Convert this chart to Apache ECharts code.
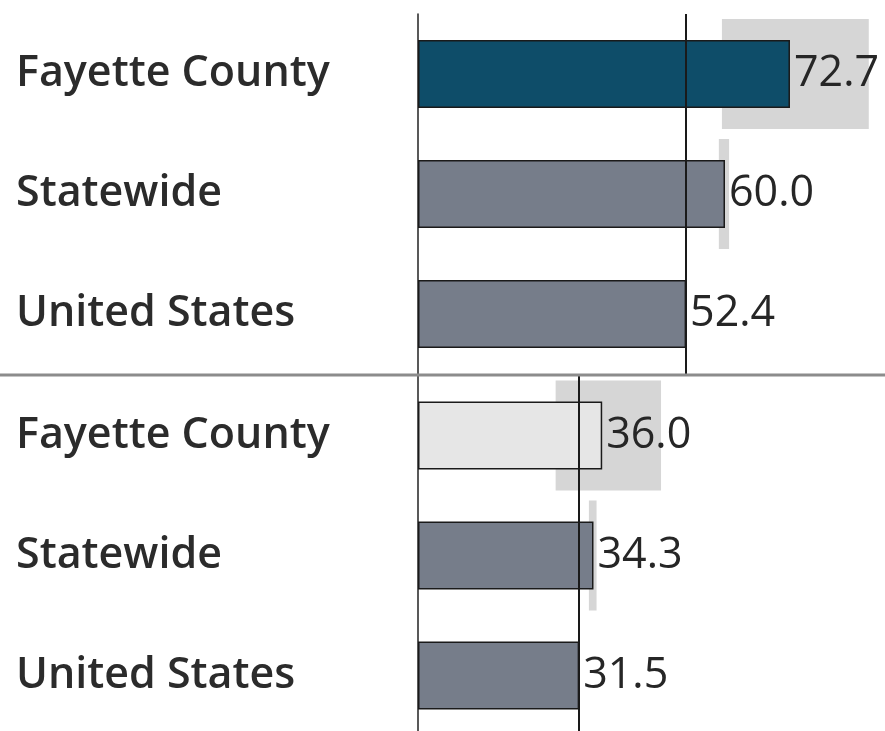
<!DOCTYPE html>
<html>
<head>
<meta charset="utf-8">
<script src="https://cdn.jsdelivr.net/npm/echarts@6/dist/echarts.min.js"></script>
<style>
  html, body { margin: 0; padding: 0; background: #fff; overflow: hidden; }
  #chart { width: 885px; height: 740px; }
</style>
</head>
<body>
<div id="chart"></div>
<script>
// 地区
const regions = ["Fayette County", "Statewide", "United States"];

// 上半部分
const topValues = [72.7, 60.0, 52.4];
const topLow = [59.4, 58.8, null];
const topHigh = [88.1, 60.8, null];
const topRef = 52.4;

// 下半部分
const bottomValues = [36.0, 34.3, 31.5];
const bottomLow = [26.9, 33.4, null];
const bottomHigh = [47.5, 34.9, null];
const bottomRef = 31.5;

const topColors = ["#0e4d69", "#767d8a", "#767d8a"];
const bottomColors = ["#e6e6e6", "#767d8a", "#767d8a"];

const font = "'Open Sans', 'Noto Sans', sans-serif";

function barSeries(idx, values, colors, ref) {
  return {
    type: "bar",
    xAxisIndex: idx,
    yAxisIndex: idx,
    barWidth: 68,
    z: 3,
    data: values.map((v, i) => ({
      value: v,
      itemStyle: { color: colors[i] },
    })),
    itemStyle: { borderColor: "#1a1a1a", borderWidth: 1.5 },
    label: {
      show: true,
      position: "right",
      distance: 4,
      fontFamily: font,
      fontSize: 43,
      color: "#262626",
      padding: [6, 0, 0, 0],
      formatter: (p) => p.value.toFixed(1),
    },
    markLine: {
      silent: true,
      symbol: "none",
      label: { show: false },
      lineStyle: { color: "#1a1a1a", width: 2, type: "solid" },
      data: [{ xAxis: ref }],
      z: 5,
    },
  };
}

// 置信区间灰框
function ciSeries(idx, low, high) {
  return {
    type: "custom",
    xAxisIndex: idx,
    yAxisIndex: idx,
    z: 1,
    data: low.map((l, i) => [l, high[i], i]).filter((d) => d[0] != null),
    renderItem: (params, api) => {
      const a = api.coord([api.value(0), api.value(2)]);
      const b = api.coord([api.value(1), api.value(2)]);
      const h = 110;
      return {
        type: "rect",
        shape: { x: a[0], y: a[1] - h / 2, width: b[0] - a[0], height: h },
        style: { fill: "#d6d6d6" },
      };
    },
  };
}

function yAxis(idx) {
  return {
    type: "category",
    gridIndex: idx,
    inverse: true,
    data: regions,
    axisLine: { show: true, lineStyle: { color: "#222", width: 1.5 } },
    axisTick: { show: false },
    axisLabel: {
      align: "left",
      margin: 402,
      fontFamily: font,
      fontWeight: 600,
      fontSize: 43,
      color: "#2b2b2b",
      padding: [8, 0, 0, 0],
    },
  };
}

function xAxis(idx) {
  return {
    type: "value",
    gridIndex: idx,
    min: 0,
    max: 90,
    show: false,
  };
}

const chart = echarts.init(document.getElementById("chart"));
chart.setOption({
  animation: false,
  grid: [
    { left: 418, width: 460.5, top: 14, height: 360 },
    { left: 418, width: 460.5, top: 375.5, height: 360 },
  ],
  xAxis: [xAxis(0), xAxis(1)],
  yAxis: [yAxis(0), yAxis(1)],
  series: [
    ciSeries(0, topLow, topHigh),
    ciSeries(1, bottomLow, bottomHigh),
    barSeries(0, topValues, topColors, topRef),
    barSeries(1, bottomValues, bottomColors, bottomRef),
  ],
  graphic: [
    {
      type: "line",
      shape: { x1: 0, y1: 375, x2: 885, y2: 375 },
      style: { stroke: "#8c8c8c", lineWidth: 3 },
      z: 10,
    },
  ],
});
</script>
</body>
</html>
